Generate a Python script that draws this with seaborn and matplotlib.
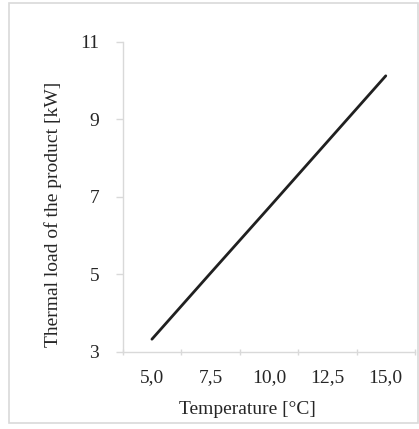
import matplotlib
matplotlib.use("Agg")
import matplotlib.pyplot as plt
from matplotlib.patches import Rectangle
import seaborn as sns
import pandas as pd

temperature = [5.0, 7.5, 10.0, 12.5, 15.0]
thermal_load = [3.33, 5.03, 6.72, 8.42, 10.12]
x_tick_labels = ["5,0", "7,5", "10,0", "12,5", "15,0"]
y_ticks = [3, 5, 7, 9, 11]

sns.set_theme(style="white")
plt.rcParams["font.family"] = ["Liberation Serif", "DejaVu Serif"]

W, H = 419, 429
fig = plt.figure(figsize=(W / 100, H / 100), dpi=100)
ax = fig.add_axes([122.7 / W, 1 - 352 / H, (415 - 122.7) / W, (352 - 41.7) / H])

df = pd.DataFrame({"Temperature": temperature, "Load": thermal_load})
sns.lineplot(data=df, x="Temperature", y="Load", ax=ax, color="#202020", linewidth=2.0)

ax.set_xlim(3.75, 16.25)
ax.set_ylim(3, 11)
ax.set_xticks(temperature)
ax.set_xticklabels(x_tick_labels)
ax.set_xticks([3.75, 6.25, 8.75, 11.25, 13.75, 16.25], minor=True)
ax.set_yticks(y_ticks)
ax.set_yticklabels([str(v) for v in y_ticks])

gray = "#d9d9d9"
txt = "#262626"
for s in ["top", "right"]:
    ax.spines[s].set_visible(False)
for s in ["left", "bottom"]:
    ax.spines[s].set_color(gray)
    ax.spines[s].set_linewidth(1.0)

ax.tick_params(axis="x", which="major", length=0, pad=12, labelsize=14, colors=txt)
ax.tick_params(axis="x", which="minor", bottom=True, length=5, width=1, color=gray, direction="inout")
ax.tick_params(axis="y", which="major", left=True, length=5, width=1, color=gray, pad=12, labelsize=14, labelcolor=txt)
ax.grid(False)

ax.set_xlabel("Temperature [°C]", fontsize=14, color=txt)
ax.set_ylabel("Thermal load of the product [kW]", fontsize=14, color=txt)
ax.xaxis.set_label_coords((247.5 - 122.7) / (415 - 122.7), -(409 - 352) / (352 - 41.7), transform=ax.transAxes)
ax.yaxis.set_label_coords(-(122.7 - 53) / (415 - 122.7), (352 - 214) / (352 - 41.7), transform=ax.transAxes)
ax.xaxis.label.set_va("center")
ax.yaxis.label.set_va("center")

fig.patches.append(Rectangle((9 / W, 1 - 423 / H), (418 - 9) / W, (423 - 3) / H,
                             transform=fig.transFigure, fill=False, edgecolor=gray, linewidth=1.2))

fig.savefig("out.png", dpi=100)
